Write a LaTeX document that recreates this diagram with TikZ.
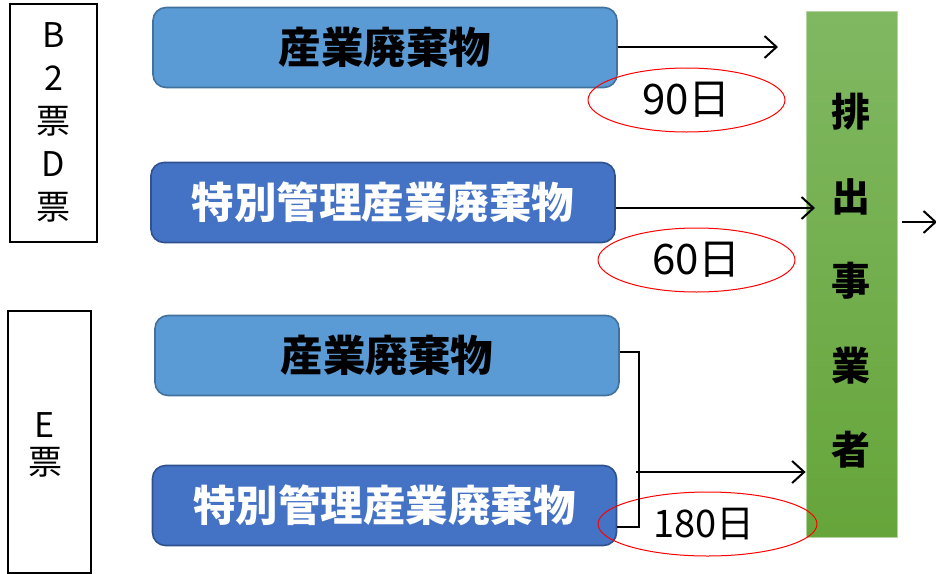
\documentclass[tikz,border=0pt]{standalone}
\usepackage{fontspec}
\setmainfont{Noto Sans CJK JP}
\usetikzlibrary{arrows.meta,shapes.geometric}
\definecolor{lblue}{HTML}{5B9BD5}
\definecolor{lblueb}{HTML}{41719C}
\definecolor{dblue}{HTML}{4472C4}
\definecolor{dblueb}{HTML}{2F528F}
\definecolor{gtop}{HTML}{80B862}
\definecolor{gbot}{HTML}{66A53A}
\begin{document}
\begin{tikzpicture}[x=1pt,y=-1pt,
  wbox/.style={rounded corners=13pt, minimum width=464pt, minimum height=80pt, inner sep=0pt, line width=1.6pt, font=\fontsize{42.5}{48}\selectfont\bfseries},
  light/.style={wbox, fill=lblue, draw=lblueb, text=black},
  dark/.style={wbox, fill=dblue, draw=dblueb, text=white},
  tag/.style={draw=black, line width=1.3pt, inner sep=0pt},
  days/.style={ellipse, draw=red, line width=1pt, inner sep=0pt, font=\fontsize{42}{48}\selectfont},
  arr/.style={line width=2pt, -{Straight Barb[length=12pt,width=22pt,line width=2pt]}},
  brk/.style={line width=1.2pt}]
\useasboundingbox (0,0) rectangle (936,573);
% left tag boxes
\node[tag, minimum width=87pt, minimum height=238pt] (t1) at (53.5,123) {};
\node[align=center, font=\fontsize{34}{43}\selectfont] (t1txt) at (53.5,122) {B\\2\\票\\D\\票};
\node[tag, minimum width=83pt, minimum height=262pt] (t2) at (49.5,442) {};
\node[align=center, font=\fontsize{34}{37}\selectfont] (t2txt) at (45,445) {E\\票};
% waste boxes
\node[light] (a1) at (385,47.5) {産業廃棄物};
\node[dark] (a2) at (383,202.5) {特別管理産業廃棄物};
\node[light] (a3) at (387,355.5) {産業廃棄物};
\node[dark] (a4) at (384.5,505.5) {特別管理産業廃棄物};
% green box
\node[top color=gtop, bottom color=gbot, draw=gtop!60!white, line width=0.8pt, minimum width=91pt, minimum height=526pt, inner sep=0pt] (g) at (851.5,274) {};
\node[align=center, font=\fontsize{39}{84.5}\selectfont\bfseries] (gtxt) at (851,281) {排\\出\\事\\業\\者};
% ellipses
\node[days, minimum width=197pt, minimum height=64pt] (d1) at (686.5,100) {90日};
\node[days, minimum width=197pt, minimum height=64pt] (d2) at (696.5,260) {60日};
\node[days, minimum width=219pt, minimum height=64pt] (d3) at (707.5,524) {};
\node[font=\fontsize{38}{44}\selectfont] (d3txt) at (704,524) {180日};
% connectors
\coordinate (e1) at (778,47);
\draw[arr] (a1.east |- e1) -- (e1);
\coordinate (e2) at (815,208);
\draw[arr] (a2.east |- e2) -- (e2);
\coordinate (bt) at (639,352);
\coordinate (bb) at (639,527);
\draw[brk] (a3.east |- bt) -- (bt) -- (bb) -- (a4.east |- bb);
\coordinate (bm) at (636,472);
\draw[arr] (bm) -- (g.west |- bm);
\coordinate (r1) at (937,222);
\draw[arr] ([xshift=5pt]g.east |- r1) -- (r1);
\end{tikzpicture}
\end{document}
